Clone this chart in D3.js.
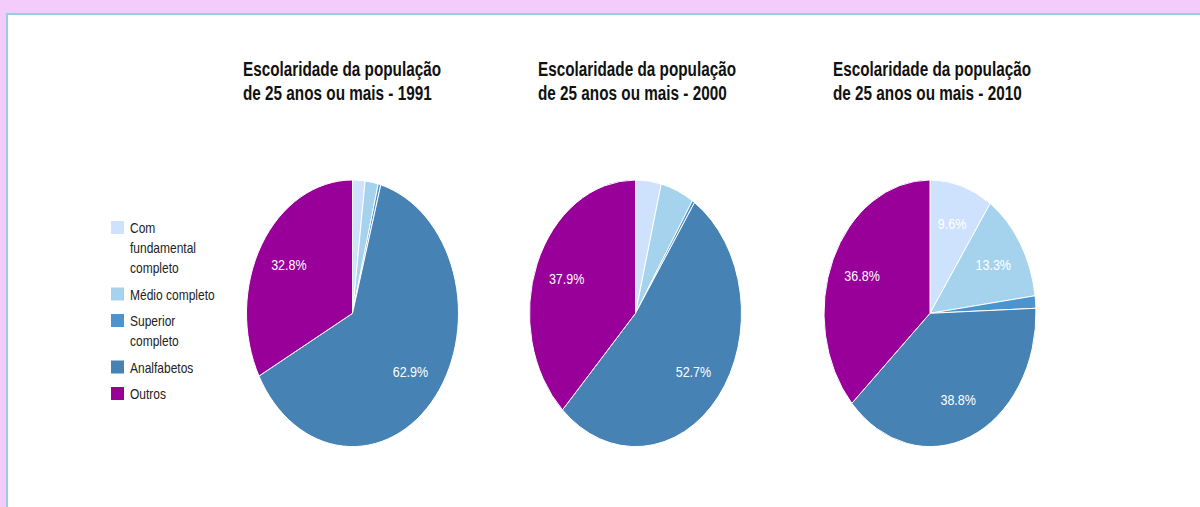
<!DOCTYPE html>
<html>
<head>
<meta charset="utf-8">
<script src="https://cdn.jsdelivr.net/npm/d3@7"></script>
<style>
  body { margin: 0; background: #f3ccfb; }
  svg { display: block; }
</style>
</head>
<body>
<svg id="chart" width="1200" height="507"></svg>
<script>
// categories and values (percent) per year
var categories = ["Com fundamental completo", "Médio completo", "Superior completo", "Analfabetos", "Outros"];
var years = ["1991", "2000", "2010"];
var values1991 = [1.9, 2.0, 0.4, 62.9, 32.8];
var values2000 = [3.9, 5.1, 0.4, 52.7, 37.9];
var values2010 = [9.6, 13.3, 1.5, 38.8, 36.8];
var titleLine1 = "Escolaridade da população";
var titleLine2 = "de 25 anos ou mais - ";

var colors = ["#cfe2fd", "#a5d3ee", "#4b94d0", "#4682b4", "#990099"];
var font = "'Liberation Sans', Arial, sans-serif";

var svg = d3.select("#chart");

// page frame
svg.append("rect").attr("width", 1200).attr("height", 507).attr("fill", "#f3ccfb");
svg.append("rect").attr("x", 6).attr("y", 13).attr("width", 1194).attr("height", 494).attr("fill", "#9dcbe6");
svg.append("rect").attr("x", 8).attr("y", 15).attr("width", 1192).attr("height", 492).attr("fill", "#ffffff");

var series = [values1991, values2000, values2010];
var pieX = [352.5, 635.5, 930];
var titleX = [243, 538, 833];
var pieY = 313.3, rx = 106, ry = 133.3, ky = ry / rx;

var color = d3.scaleOrdinal().domain(categories).range(colors);

var pie = d3.pie().sort(null).value(function (d) { return d.value; });
var arc = d3.arc().innerRadius(0).outerRadius(rx);
var labelArc = d3.arc().innerRadius(rx * 0.4).outerRadius(rx);

series.forEach(function (vals, i) {
    var data = categories.map(function (c, j) { return { cat: c, value: vals[j] }; });
    var total = d3.sum(vals);

    // title
    var t = svg.append("g")
        .attr("transform", "translate(" + titleX[i] + ",0)");
    [titleLine1, titleLine2 + years[i]].forEach(function (line, k) {
        t.append("text")
            .attr("transform", "translate(0," + (76 + k * 23.5) + ") scale(1,1.3)")
            .attr("font-family", font)
            .attr("font-size", "15.3px")
            .attr("font-weight", "bold")
            .attr("fill", "#111")
            .text(line);
    });

    // slices
    var g = svg.append("g")
        .attr("transform", "translate(" + pieX[i] + "," + pieY + ") scale(1," + ky + ")");
    var arcs = pie(data);
    g.selectAll("path")
        .data(arcs)
        .enter()
        .append("path")
        .attr("d", arc)
        .attr("fill", function (d) { return color(d.data.cat); })
        .attr("stroke", "#ffffff")
        .attr("stroke-width", 1)
        .attr("vector-effect", "non-scaling-stroke");

    // slice labels
    svg.append("g")
        .selectAll("text")
        .data(arcs.filter(function (d) { return d.data.value / total >= 0.08; }))
        .enter()
        .append("text")
        .attr("transform", function (d) {
            var c = labelArc.centroid(d);
            return "translate(" + (pieX[i] + c[0]) + "," + (pieY + c[1] * ky) + ") scale(1,1.15)";
        })
        .attr("text-anchor", "middle")
        .attr("dy", "0.36em")
        .attr("font-family", font)
        .attr("font-size", "12.5px")
        .attr("fill", "#ffffff")
        .text(function (d) { return (d.data.value / total * 100).toFixed(1) + "%"; });
});

// legend
var legend = svg.append("g").attr("transform", "translate(111,0)");
var baseline = 233;
categories.forEach(function (c) {
    // wrap words into lines of at most ~90px
    var words = c.split(" "), lines = [], cur = "";
    var probe = legend.append("text").attr("font-family", font).attr("font-size", "12px");
    words.forEach(function (w) {
        var test = cur ? cur + " " + w : w;
        probe.text(test);
        if (cur && probe.node().getComputedTextLength() > 92) {
            lines.push(cur);
            cur = w;
        } else {
            cur = test;
        }
    });
    lines.push(cur);
    probe.remove();

    legend.append("rect")
        .attr("x", 0)
        .attr("y", baseline - 12)
        .attr("width", 13)
        .attr("height", 13)
        .attr("fill", color(c));
    lines.forEach(function (line, k) {
        legend.append("text")
            .attr("transform", "translate(19," + (baseline + k * 20) + ") scale(1,1.2)")
            .attr("font-family", font)
            .attr("font-size", "12px")
            .attr("fill", "#222")
            .text(line);
    });
    baseline += lines.length * 20 + 6.5;
});
</script>
</body>
</html>
